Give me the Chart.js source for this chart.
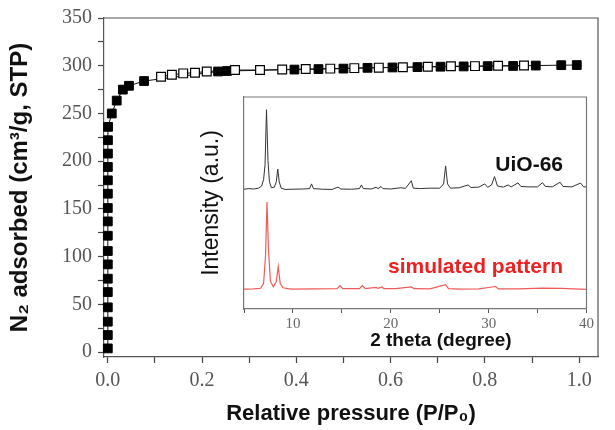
<!DOCTYPE html>
<html>
<head>
<meta charset="utf-8">
<script src="https://cdn.jsdelivr.net/npm/chart.js@4.4.0/dist/chart.umd.min.js"></script>
<style>
  html, body { margin: 0; padding: 0; background: #fff; }
  #wrap { position: relative; width: 615px; height: 430px; }
  #isoChart { position: absolute; left: 0; top: 0; }
  #xrdChart { position: absolute; left: 196px; top: 92px; }
</style>
</head>
<body>
<div id="wrap">
  <canvas id="isoChart" width="615" height="430"></canvas>
  <canvas id="xrdChart" width="400" height="260"></canvas>
</div>
<script>
// N2 isotherm - adsorption (filled squares)
var adsP = [0.0001, 0.0001, 0.0001, 0.0001, 0.0001, 0.0001, 0.0001, 0.0001, 0.0001,
            0.0001, 0.0001, 0.0002, 0.0002, 0.0002, 0.0003, 0.0004, 0.0006,
            0.0085, 0.019, 0.032, 0.045, 0.077, 0.234, 0.253, 0.396, 0.447, 0.5,
            0.551, 0.604, 0.657, 0.706, 0.755, 0.806, 0.86, 0.908, 0.962, 0.995];
var adsV = [4, 18, 32, 47, 63, 77, 92, 106, 122,
            137, 151, 166, 180, 194, 208, 222, 236,
            250, 263.5, 275, 279, 284, 294, 294.5, 296, 296.5, 297,
            297.8, 298.2, 298.6, 299, 299.3, 299.6, 299.8, 300.2, 300.6, 300.7];

// desorption (open squares)
var desP = [0.113, 0.136, 0.16, 0.185, 0.21, 0.27, 0.323, 0.37, 0.42, 0.472,
            0.523, 0.575, 0.626, 0.679, 0.728, 0.779, 0.828, 0.883];
var desV = [288.5, 290.5, 292, 292.7, 294, 295.5, 295.5, 296, 296.5, 297,
            297.5, 298, 298.5, 299, 299.5, 299.6, 300, 300.2];

var pressureTicks = [0, 0.1, 0.2, 0.3, 0.4, 0.5, 0.6, 0.7, 0.8, 0.9, 1.0];
var volumeTicks = [0, 25, 50, 75, 100, 125, 150, 175, 200, 225, 250, 275, 300, 325, 350];

// XRD inset - UiO-66 measured
var uioTheta = [5.0, 5.5, 6.0, 6.5, 6.8, 7.0, 7.15, 7.3, 7.45, 7.6, 7.8, 8.1, 8.3, 8.45, 8.6, 8.8, 9.2,
                10, 11, 11.7, 11.9, 12.1, 13, 14, 14.6, 14.9, 16, 16.8, 17.0, 17.2, 18, 18.5, 18.7,
                19.0, 19.2, 20, 21, 21.5, 22.1, 22.3, 23, 24, 25.0, 25.4, 25.6, 25.8, 26.1, 27,
                27.9, 28.2, 29, 29.6, 29.9, 30.3, 30.6, 30.9, 31.5, 32, 32.3, 33, 33.3, 34, 35,
                35.5, 35.8, 36.5, 37.3, 37.6, 38.5, 39.4, 39.7, 40];
var uioInt = [56.5, 56.8, 56.6, 57.0, 58, 61, 68, 94, 70, 60, 57.2, 57.5, 60, 66, 60, 57, 56.4,
              56.5, 56.6, 56.8, 59, 56.8, 56.5, 56.4, 57.5, 56.6, 56.5, 56.8, 58.5, 56.8, 56.6, 57.4, 56.8,
              57.8, 56.8, 56.6, 57.2, 56.9, 60.5, 57, 56.8, 57, 57, 59, 67.5, 59, 57, 57.2,
              58.5, 57.3, 57.5, 59, 57.4, 58.5, 62.5, 58, 57.5, 58.5, 57.6, 59.5, 57.8, 57.6, 57.6,
              59.6, 57.8, 57.6, 59.8, 57.8, 57.6, 59.4, 57.6, 57.6];

// XRD inset - simulated pattern
var simTheta = [5, 6, 6.7, 7.0, 7.2, 7.35, 7.5, 7.7, 8.0, 8.3, 8.5, 8.7, 9.0, 9.5, 10, 12, 14.5,
                14.8, 15.1, 16.8, 17.1, 17.4, 18.5, 18.7, 19.1, 19.3, 20.5, 22.1, 22.4, 24, 25.6,
                25.9, 27, 29, 30.7, 31, 33, 35.5, 37.4, 40];
var simInt = [9.4, 9.5, 9.8, 12, 25, 50.5, 28, 13, 10.5, 13, 20, 12, 10, 9.6, 9.4, 9.5, 9.6,
              11, 9.6, 9.6, 11, 9.6, 10.2, 9.7, 10.4, 9.6, 9.6, 10.4, 9.6, 9.5, 11.5,
              9.6, 9.4, 9.5, 10.6, 9.5, 9.5, 9.8, 9.7, 9.3];

var thetaTicks = [5, 10, 15, 20, 25, 30, 35, 40];

function toXY(xs, ys) {
    var out = [];
    for (var i = 0; i < xs.length; i++) out.push({x: xs[i], y: ys[i]});
    return out;
}

//рамка вокруг области графика
var framePlugin = {
    id: 'frame',
    afterDraw: function (chart, args, opts) {
        var ctx = chart.ctx, a = chart.chartArea;
        ctx.save();
        ctx.strokeStyle = opts.color || '#555';
        ctx.lineWidth = opts.width || 1;
        ctx.beginPath();
        ctx.moveTo(a.left, a.top);
        ctx.lineTo(a.right, a.top);
        ctx.lineTo(a.right, a.bottom);
        ctx.stroke();
        ctx.restore();
    }
};

var serifTicks = {family: "'Liberation Serif', 'Times New Roman', serif", size: 20};
var boldSans = "'Liberation Sans', Arial, sans-serif";

new Chart(document.getElementById('isoChart'), {
    type: 'scatter',
    data: {
        datasets: [{
            label: 'adsorption',
            data: toXY(adsP, adsV),
            showLine: true,
            borderColor: '#111',
            borderWidth: 1,
            pointStyle: 'rect',
            pointRadius: 6.2,
            pointBorderWidth: 1,
            pointBackgroundColor: '#000',
            pointBorderColor: '#000',
            clip: false,
            order: 1
        }, {
            label: 'desorption',
            data: toXY(desP, desV),
            showLine: true,
            borderColor: '#111',
            borderWidth: 1,
            pointStyle: 'rect',
            pointRadius: 6.2,
            pointBorderWidth: 1.2,
            pointBackgroundColor: '#fff',
            pointBorderColor: '#000',
            clip: false,
            order: 0
        }]
    },
    options: {
        responsive: false,
        animation: false,
        devicePixelRatio: 1,
        layout: {padding: {top: 16, right: 17, left: 0, bottom: 0}},
        plugins: {legend: {display: false}, tooltip: {enabled: false}, frame: {color: '#555', width: 1.2}},
        scales: {
            x: {
                type: 'linear',
                min: -0.008,
                max: 1.04,
                afterBuildTicks: function (axis) {
                    axis.ticks = pressureTicks.map(function (v) { return {value: v}; });
                },
                afterFit: function (axis) { axis.height = 73; },
                ticks: {
                    color: '#555',
                    font: serifTicks,
                    padding: 6,
                    maxRotation: 0,
                    autoSkip: false,
                    callback: function (v) {
                        var k = Math.round(v * 10);
                        return k % 2 === 0 ? (k / 10).toFixed(1) : '';
                    }
                },
                grid: {drawOnChartArea: false, tickLength: 6, color: '#444', tickWidth: 1.2},
                border: {color: '#555', width: 1.2},
                title: {
                    display: true,
                    text: 'Relative pressure (P/P₀)',
                    color: '#111',
                    font: {family: boldSans, size: 22, weight: 'bold'},
                    padding: {top: 0, bottom: 3}
                }
            },
            y: {
                type: 'linear',
                min: -5,
                max: 350,
                afterBuildTicks: function (axis) {
                    axis.ticks = volumeTicks.map(function (v) { return {value: v}; });
                },
                afterFit: function (axis) { axis.width = 104; },
                ticks: {
                    color: '#555',
                    font: serifTicks,
                    padding: 6,
                    autoSkip: false,
                    callback: function (v) { return v % 50 === 0 ? String(v) : ''; }
                },
                grid: {drawOnChartArea: false, tickLength: 6, color: '#444', tickWidth: 1.2},
                border: {color: '#555', width: 1.2},
                title: {
                    display: true,
                    text: 'N₂ adsorbed (cm³/g, STP)',
                    color: '#111',
                    font: {family: boldSans, size: 24, weight: 'bold'},
                    padding: {top: 6, bottom: 0}
                }
            }
        }
    },
    plugins: [framePlugin]
});

//подписи на вставке
var insetText = {
    id: 'insetText',
    afterDraw: function (chart) {
        var ctx = chart.ctx, a = chart.chartArea;
        ctx.save();
        ctx.font = 'bold 19px ' + boldSans;
        ctx.fillStyle = '#111';
        ctx.textAlign = 'center';
        ctx.textBaseline = 'middle';
        ctx.fillText('2 theta (degree)', a.left + (a.right - a.left) * 0.575, 249);
        ctx.font = 'bold 21px ' + boldSans;
        ctx.textAlign = 'right';
        ctx.fillText('UiO-66', 367, 73);
        ctx.fillStyle = '#ee2020';
        ctx.fillText('simulated pattern', 367, 175);
        ctx.restore();
    }
};

new Chart(document.getElementById('xrdChart'), {
    type: 'line',
    data: {
        datasets: [{
            label: 'UiO-66',
            data: toXY(uioTheta, uioInt),
            borderColor: '#333',
            borderWidth: 1,
            pointRadius: 0,
            tension: 0
        }, {
            label: 'simulated pattern',
            data: toXY(simTheta, simInt),
            borderColor: '#f05a5a',
            borderWidth: 1.2,
            pointRadius: 0,
            tension: 0
        }]
    },
    options: {
        responsive: false,
        animation: false,
        devicePixelRatio: 1,
        layout: {padding: {top: 5, right: 9, left: 0, bottom: 0}},
        plugins: {legend: {display: false}, tooltip: {enabled: false}, frame: {color: '#777', width: 1.2}},
        scales: {
            x: {
                type: 'linear',
                min: 5,
                max: 40,
                afterBuildTicks: function (axis) {
                    axis.ticks = thetaTicks.map(function (v) { return {value: v}; });
                },
                afterFit: function (axis) { axis.height = 43; },
                ticks: {
                    color: '#666',
                    font: {family: serifTicks.family, size: 15},
                    padding: 2,
                    maxRotation: 0,
                    autoSkip: false,
                    callback: function (v) { return v % 10 === 0 ? String(v) : ''; }
                },
                grid: {drawOnChartArea: false, tickLength: 4, color: '#555'},
                border: {color: '#777', width: 1.2}
            },
            y: {
                min: 0,
                max: 100,
                afterFit: function (axis) { axis.width = 48; },
                ticks: {display: false},
                grid: {display: false},
                border: {color: '#777', width: 1.2},
                title: {
                    display: true,
                    text: 'Intensity (a.u.)',
                    color: '#111',
                    font: {family: boldSans, size: 23},
                    padding: {top: 2, bottom: 0}
                }
            }
        }
    },
    plugins: [framePlugin, insetText]
});
</script>
</body>
</html>
